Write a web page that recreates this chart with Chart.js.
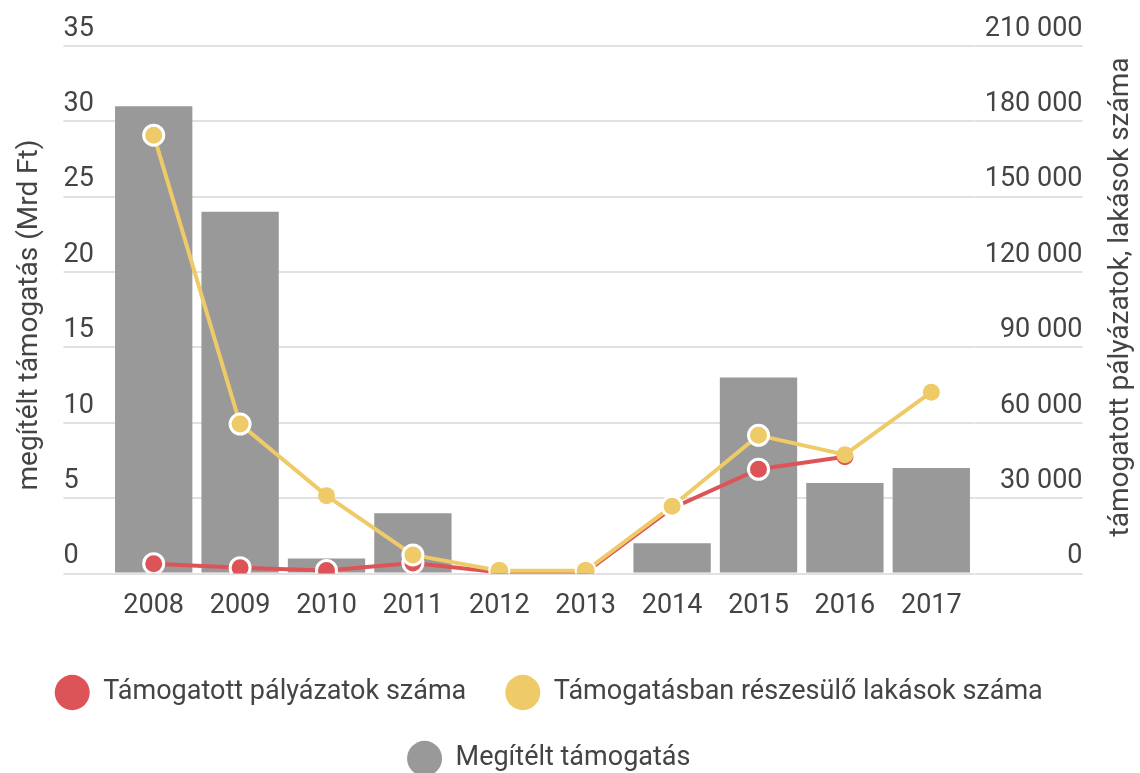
<!DOCTYPE html>
<html>
<head>
<meta charset="utf-8">
<script src="https://cdn.jsdelivr.net/npm/chart.js@4/dist/chart.umd.min.js"></script>
<style>
  html, body { margin: 0; padding: 0; background: #fff; overflow: hidden; }
  #wrap { width: 1140px; height: 782px; }
</style>
</head>
<body>
<div id="wrap"><canvas id="chart" width="1140" height="782"></canvas></div>
<script>
const years = ["2008", "2009", "2010", "2011", "2012", "2013", "2014", "2015", "2016", "2017"];
// megítélt támogatás, Mrd Ft (bal tengely)
const megiteltTamogatas = [31, 24, 1, 4, 0, 0, 2, 13, 6, 7];
// támogatott pályázatok száma (jobb tengely)
const palyazatokSzama = [3900, 2300, 1200, 4200, 500, 500, 26000, 41500, 46500, null];
// támogatásban részesülő lakások száma (jobb tengely)
const lakasokSzama = [174500, 59500, 31000, 7400, 1100, 1100, 26800, 55000, 47300, 72200];

const leftTicks = { min: 0, max: 35, step: 5 };
const rightTicks = { min: 0, max: 210000, step: 30000 };

const RED = "#DD5458";
const YELLOW = "#EECA69";
const GRAY = "#999999";
const GRID = "#e1e1e1";
const TEXT = "#444444";

const redBorder = [3, 3, 3, 3, 0, 0, 0, 3, 0, 0];
const yellowBorder = [3, 3, 0, 3, 2, 2, 3, 3, 0, 0];

function thousands(v) {
  return String(v).replace(/\B(?=(\d{3})+(?!\d))/g, " ");
}

// forgatott tengelycímek (a jobb oldali is alulról felfelé olvasható)
const axisTitles = {
  id: "axisTitles",
  afterDraw(chart) {
    const ctx = chart.ctx;
    ctx.save();
    ctx.fillStyle = TEXT;
    ctx.font = "28px Roboto";
    ctx.textAlign = "center";
    ctx.textBaseline = "middle";
    ctx.translate(30, 315);
    ctx.rotate(-Math.PI / 2);
    ctx.fillText("megítélt támogatás (Mrd Ft)", 0, 0);
    ctx.restore();
    ctx.save();
    ctx.fillStyle = TEXT;
    ctx.font = "28px Roboto";
    ctx.textAlign = "center";
    ctx.textBaseline = "middle";
    ctx.translate(1121, 297);
    ctx.rotate(-Math.PI / 2);
    ctx.fillText("támogatott pályázatok, lakások száma", 0, 0);
    ctx.restore();
  }
};

const ctx = document.getElementById("chart").getContext("2d");
new Chart(ctx, {
  data: {
    labels: years,
    datasets: [
      {
        type: "line",
        label: "Támogatott pályázatok száma",
        data: palyazatokSzama,
        yAxisID: "y1",
        borderColor: RED,
        backgroundColor: RED,
        borderWidth: 4,
        pointBackgroundColor: RED,
        pointBorderColor: "#fff",
        pointBorderWidth: redBorder,
        pointRadius: redBorder.map(b => (b ? 10 : 8.5)),
        tension: 0,
        order: 1,
      },
      {
        type: "line",
        label: "Támogatásban részesülő lakások száma",
        data: lakasokSzama,
        yAxisID: "y1",
        borderColor: YELLOW,
        backgroundColor: YELLOW,
        borderWidth: 4,
        pointBackgroundColor: YELLOW,
        pointBorderColor: "#fff",
        pointBorderWidth: yellowBorder,
        pointRadius: yellowBorder.map(b => (b ? 10 : 8.5)),
        tension: 0,
        order: 0,
      },
      {
        type: "bar",
        label: "Megítélt támogatás",
        data: megiteltTamogatas,
        yAxisID: "y",
        backgroundColor: GRAY,
        borderWidth: 0,
        categoryPercentage: 1,
        barPercentage: 0.895,
        order: 2,
      },
    ],
  },
  options: {
    responsive: false,
    animation: false,
    layout: { padding: { top: 46, left: 15, right: 57.5, bottom: 0 } },
    plugins: {
      tooltip: { enabled: false },
      legend: {
        position: "bottom",
        labels: {
          usePointStyle: true,
          pointStyle: "circle",
          boxHeight: 25,
          pointStyleWidth: 35,
          padding: 39,
          color: TEXT,
          font: { family: "Roboto", size: 27 },
          sort: (a, b) => a.datasetIndex - b.datasetIndex,
          generateLabels(chart) {
            const items = Chart.defaults.plugins.legend.labels.generateLabels(chart);
            items.forEach(it => { it.lineWidth = 0; it.strokeStyle = it.fillStyle; });
            return items;
          },
        },
      },
    },
    scales: {
      x: {
        grid: { display: false },
        border: { display: false },
        ticks: {
          color: TEXT,
          font: { family: "Roboto", size: 27 },
          padding: 9,
          maxRotation: 0,
        },
        afterFit(scale) { scale.height = 66.5; },
      },
      y: {
        position: "left",
        min: leftTicks.min,
        max: leftTicks.max,
        border: { display: false },
        grid: {
          color: GRID,
          lineWidth: 2,
          drawTicks: true,
          tickLength: 47,
          tickColor: GRID,
          tickWidth: 2,
        },
        ticks: {
          stepSize: leftTicks.step,
          mirror: true,
          padding: -47,
          labelOffset: -17,
          color: TEXT,
          font: { family: "Roboto", size: 27 },
        },
        afterFit(scale) { scale.width = 95.5; },
      },
      y1: {
        position: "right",
        min: rightTicks.min,
        max: rightTicks.max,
        border: { display: false },
        grid: {
          drawOnChartArea: false,
          color: GRID,
          lineWidth: 2,
          drawTicks: true,
          tickLength: 108,
          tickColor: GRID,
          tickWidth: 2,
        },
        ticks: {
          stepSize: rightTicks.step,
          crossAlign: "far",
          padding: 0,
          labelOffset: -17,
          color: TEXT,
          font: { family: "Roboto", size: 27 },
          callback: v => thousands(v),
        },
        afterFit(scale) { scale.width = 108; },
      },
    },
  },
  plugins: [axisTitles],
});
</script>
</body>
</html>
